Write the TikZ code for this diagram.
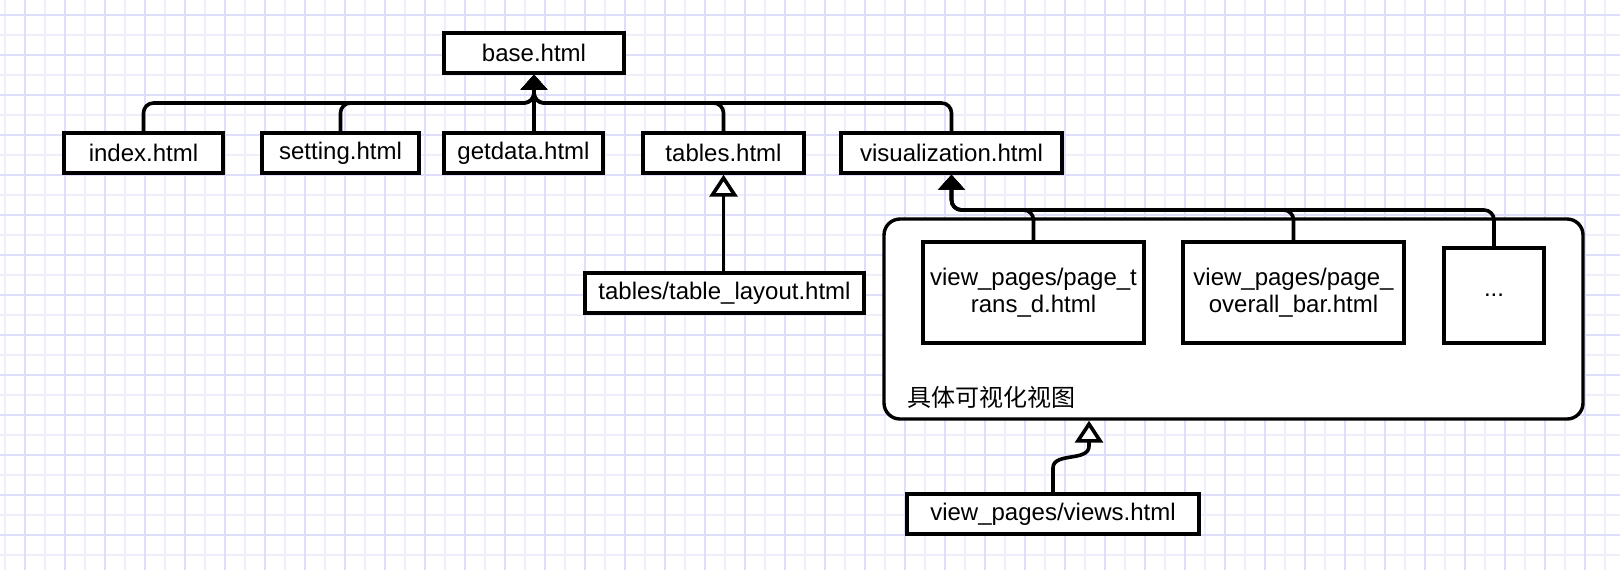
\documentclass[tikz,border=0pt]{standalone}
\usepackage{fontspec}
\setmainfont{Liberation Sans}
\newfontfamily\cjk{Noto Sans CJK SC}
\usetikzlibrary{arrows.meta}
\definecolor{gridDark}{HTML}{DEDEFA}
\definecolor{gridLight}{HTML}{EFEFFC}
\tikzset{
  box/.style={draw, line width=1.7pt, fill=white, minimum height=20pt, inner sep=0pt,
    align=center, font=\fontsize{12}{13.5}\selectfont},
  conn/.style={line width=1.8pt, rounded corners=5pt, line join=round},
  solidtip/.style={-{Triangle[length=7.5pt,width=13pt]}},
  opentip/.style={-{Triangle[length=11pt,width=14pt,fill=white]}},
}
\begin{document}
\begin{tikzpicture}[x=0.5pt,y=-0.5pt]
\useasboundingbox (0,0) rectangle (1620,570);
\fill[white] (0,0) rectangle (1620,570);
% grid
\foreach \x in {5,45,...,1605} \draw[gridLight, line width=1.1pt] (\x,0) -- (\x,570);
\foreach \y in {35,75,...,570} \draw[gridLight, line width=1.1pt] (0,\y) -- (1620,\y);
\foreach \x in {25,65,...,1620} \draw[gridDark, line width=1.1pt] (\x,0) -- (\x,570);
\foreach \y in {15,55,...,570} \draw[gridDark, line width=1.1pt] (0,\y) -- (1620,\y);

% top level
\node[box, minimum width=90pt] (base) at (534,53) {base.html};
\node[box, minimum width=79.5pt] (index) at (143.5,153) {index.html};
\node[box, minimum width=78.5pt] (setting) at (340.5,153) {setting.html};
\node[box, minimum width=79.5pt] (getdata) at (523.5,153) {getdata.html};
\node[box, minimum width=80.5pt] (tables) at (723.5,153) {tables.html};
\node[box, minimum width=110.5pt] (vis) at (951.5,153) {visualization.html};
\node[box, minimum width=139.5pt] (layout) at (724.5,293) {tables/table\_layout.html};

% container
\node[draw, line width=1.7pt, fill=white, rounded corners=8pt, minimum width=349.5pt,
  minimum height=100pt, inner sep=0pt] (cont) at (1233.5,319) {};
\node[box, minimum width=110.5pt, minimum height=50.5pt] (trans) at (1033.5,292.5)
  {view\_pages/page\_t\\rans\_d.html};
\node[box, minimum width=110.5pt, minimum height=50.5pt] (overall) at (1293.5,292.5)
  {view\_pages/page\_\\overall\_bar.html};
\node[box, minimum width=50pt, minimum height=47.5pt] (dots) at (1494,295.5) {...};
\node[anchor=west, inner sep=0pt, font=\cjk\fontsize{12}{13.5}\selectfont] (lbl) at (907,397) {具体可视化视图};

\node[box, minimum width=146pt] (views) at (1053,514) {view\_pages/views.html};

% connectors to base
\coordinate (bj) at (534,103);
\draw[conn, solidtip] (index.north) |- (bj) -- (base.south);
\draw[conn, solidtip] (setting.north) |- (bj) -- (base.south);
\draw[conn, solidtip] (tables.north) |- (bj) -- (base.south);
\draw[conn, solidtip] (vis.north) |- (bj) -- (base.south);
\draw[conn, solidtip] (getdata.north -| base.south) -- (base.south);

% tables
\draw[conn, opentip] (layout.north -| tables.south) -- (tables.south);

% visualization children
\coordinate (vj) at (951.5,210);
\draw[conn, solidtip] (trans.north) |- (vj) -- (vis.south);
\draw[conn, solidtip] (overall.north) |- (vj) -- (vis.south);
\draw[conn, solidtip] (dots.north) |- (vj) -- (vis.south);

% views
\coordinate (vA) at (1053,468);
\coordinate (vB) at (1089,446);
\draw[line width=1.8pt, opentip] (views.north) -- (vA) .. controls (1053,452) and (1089,462) .. (vB) -- (vB |- cont.south);
\end{tikzpicture}
\end{document}
